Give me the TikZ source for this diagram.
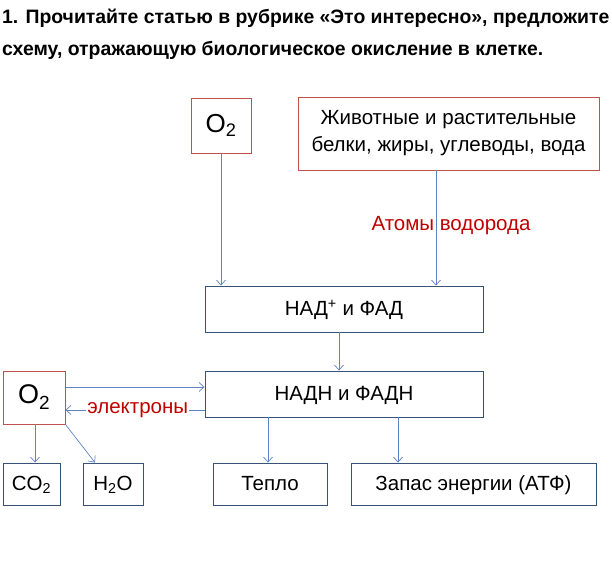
\documentclass[tikz,border=0pt]{standalone}
\usepackage{fontspec}
\setmainfont{Liberation Sans}
\usetikzlibrary{arrows.meta}

\definecolor{boxred}{RGB}{192,80,77}
\definecolor{boxblue}{RGB}{56,83,118}
\definecolor{arrblue}{RGB}{96,130,196}
\definecolor{txtred}{RGB}{192,0,0}

\begin{document}
\begin{tikzpicture}[x=1pt,y=1pt,
  redbox/.style={draw=boxred, line width=0.8pt, inner sep=0pt, align=center},
  bluebox/.style={draw=boxblue, line width=0.9pt, inner sep=0pt, align=center,
    font=\fontsize{20.5}{20.5}\selectfont, text height=15pt, text depth=1.5pt},
  arr/.style={draw=arrblue, line width=0.7pt, -{Straight Barb[length=5pt,width=9pt]}}]
\useasboundingbox (0,0) rectangle (612,567);
% title
\node [anchor=base west, inner sep=0pt, font=\fontsize{19.4}{19.4}\selectfont\bfseries] (title1) at (2,543) {1. Прочитайте статью в рубрике «Это интересно», предложите};
\node [anchor=base west, inner sep=0pt, font=\fontsize{19.4}{19.4}\selectfont\bfseries] (title2) at (2,511) {схему, отражающую биологическое окисление в клетке.};
% top boxes
\node [redbox, minimum width=60, minimum height=55, font=\fontsize{26}{26}\selectfont] (o2top) at (221,441.5) {O\textsubscript{2}};
\node [redbox, minimum width=301, minimum height=73, font=\fontsize{20.5}{27}\selectfont] (food) at (448.5,433.5) {Животные и растительные\\белки, жиры, углеводы, вода};
% middle boxes
\node [bluebox, minimum width=278, minimum height=46] (nad) at (344,258) {НАД\textsuperscript{+} и ФАД};
\node [bluebox, minimum width=278, minimum height=46] (nadh) at (344,173) {НАДН и ФАДН};
\node [redbox, minimum width=62, minimum height=53, font=\fontsize{27}{27}\selectfont] (o2left) at (34,169.5) {O\raisebox{-6pt}{\fontsize{19}{19}\selectfont 2}};
% bottom boxes
\node [bluebox, minimum width=57, minimum height=42] (co2) at (31.5,83) {CO\textsubscript{2}};
\node [bluebox, minimum width=60, minimum height=42] (h2o) at (113,83) {H\textsubscript{2}O};
\node [bluebox, minimum width=114, minimum height=42] (heat) at (270,83) {Тепло};
\node [bluebox, minimum width=245, minimum height=42] (atp) at (473.5,83) {Запас энергии (АТФ)};
% labels
\node [text=txtred, font=\fontsize{20.5}{20.5}\selectfont] (hatoms) at (451,341) {Атомы водорода};
% arrows
\draw [arr] (o2top.south) -- (o2top.south |- nad.north);
\draw [arr] ([xshift=-12.5pt]food.south) -- ([xshift=-12.5pt]food.south |- nad.north);
\draw [arr] ([xshift=-5pt]nad.south) -- ([xshift=-5pt]nadh.north);
\draw [arr] ([yshift=10.5pt]o2left.east) -- ([yshift=10.5pt]o2left.east -| nadh.west);
\draw [arr] ([yshift=-16pt]nadh.west) -- node [pos=0.48, text=txtred, font=\fontsize{20.5}{20.5}\selectfont, fill=white, inner sep=1pt] (electrons) {электроны} ([yshift=-16pt]nadh.west -| o2left.east);
\draw [arr] ([xshift=1pt]o2left.south) -- ([xshift=1pt]o2left.south |- co2.north);
\draw [arr] (o2left.south east) -- ([xshift=-18pt]h2o.north);
\draw [arr] ([xshift=-76pt]nadh.south) -- ([xshift=-76pt]nadh.south |- heat.north);
\draw [arr] ([xshift=54pt]nadh.south) -- ([xshift=54pt]nadh.south |- atp.north);
\end{tikzpicture}
\end{document}
